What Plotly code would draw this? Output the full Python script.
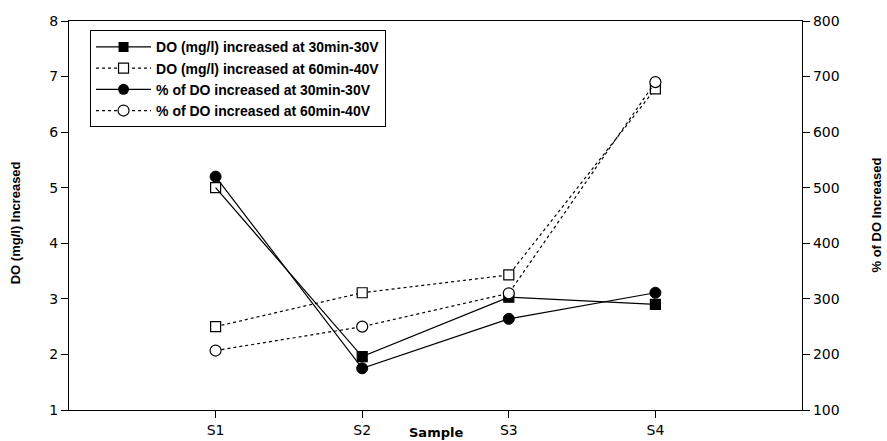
import plotly.graph_objects as go

samples = ["S1", "S2", "S3", "S4"]
do_30min_30v = [5.0, 1.96, 3.03, 2.90]
do_60min_40v = [2.50, 3.11, 3.43, 6.78]
pct_30min_30v = [520, 175, 264, 311]
pct_60min_40v = [207, 250, 310, 690]

names = [
    "DO (mg/l) increased at 30min-30V",
    "DO (mg/l) increased at 60min-40V",
    "% of DO increased at 30min-30V",
    "% of DO increased at 60min-40V",
]

BLK = "black"
fig = go.Figure()

# data traces (legend shown by separate legend-only entries)
fig.add_trace(go.Scatter(
    x=samples, y=do_30min_30v, mode="lines+markers", showlegend=False,
    line=dict(color=BLK, width=1.2),
    marker=dict(symbol=["square-open", "square", "square", "square"], size=10,
                color=BLK, line=dict(color=BLK, width=1.2)),
    yaxis="y"))
fig.add_trace(go.Scatter(
    x=samples, y=do_60min_40v, mode="lines+markers", showlegend=False,
    line=dict(color=BLK, width=1.2, dash="dot"),
    marker=dict(symbol="square", size=10, color="white", line=dict(color=BLK, width=1.2)),
    yaxis="y"))
fig.add_trace(go.Scatter(
    x=samples, y=pct_30min_30v, mode="lines+markers", showlegend=False,
    line=dict(color=BLK, width=1.2),
    marker=dict(symbol="circle", size=11, color=BLK, line=dict(color=BLK, width=1)),
    yaxis="y2"))
fig.add_trace(go.Scatter(
    x=samples, y=pct_60min_40v, mode="lines+markers", showlegend=False,
    line=dict(color=BLK, width=1.2, dash="dot"),
    marker=dict(symbol="circle", size=11, color="white", line=dict(color=BLK, width=1.2)),
    yaxis="y2"))

# legend entries
leg_styles = [
    (dict(color=BLK, width=1.2), dict(symbol="square", size=10, color=BLK)),
    (dict(color=BLK, width=1.2, dash="dot"), dict(symbol="square", size=10, color="white", line=dict(color=BLK, width=1.2))),
    (dict(color=BLK, width=1.2), dict(symbol="circle", size=11, color=BLK)),
    (dict(color=BLK, width=1.2, dash="dot"), dict(symbol="circle", size=11, color="white", line=dict(color=BLK, width=1.2))),
]
for nm, (ln, mk) in zip(names, leg_styles):
    fig.add_trace(go.Scatter(x=[None], y=[None], mode="lines+markers", name=nm,
                             line=ln, marker=mk, showlegend=True))

tickfont = dict(family="DejaVu Sans, Liberation Sans, Arial", size=14, color=BLK)

fig.update_layout(
    width=887, height=441,
    margin=dict(l=69, r=85, t=21, b=31, autoexpand=False),
    plot_bgcolor="white", paper_bgcolor="white",
    showlegend=True,
    legend=dict(x=0.0287, y=0.976, xanchor="left", yanchor="top",
                bordercolor=BLK, borderwidth=1, bgcolor="white",
                font=dict(family="Liberation Sans, Arial", size=14, color=BLK, weight="bold"),
                traceorder="normal", itemwidth=55),
    xaxis=dict(type="category", range=[-1, 4], showline=True, linecolor=BLK, linewidth=1.3,
               mirror=True, ticks="outside", ticklen=7, tickcolor=BLK, tickfont=tickfont,
               showgrid=False, zeroline=False, automargin=False),
    yaxis=dict(range=[1, 8], dtick=1, showline=True, linecolor=BLK, linewidth=1.3,
               ticks="outside", ticklen=7, tickcolor=BLK, tickfont=tickfont,
               showgrid=False, zeroline=False, automargin=False),
    yaxis2=dict(range=[100, 800], dtick=100, overlaying="y", side="right",
                showline=True, linecolor=BLK, linewidth=1.3,
                ticks="outside", ticklen=7, tickcolor=BLK, tickfont=tickfont,
                showgrid=False, zeroline=False, automargin=False),
    annotations=[
        dict(text="<b>Sample</b>", x=0.5, y=0, xref="paper", yref="paper",
             yshift=-22, xanchor="center", yanchor="middle", showarrow=False,
             font=dict(family="DejaVu Sans, Liberation Sans", size=13, color=BLK)),
        dict(text="<b>DO (mg/l) Increased</b>", x=0, y=0.48, xref="paper", yref="paper",
             xshift=15 - 69, showarrow=False, textangle=-90, xanchor="center", yanchor="middle",
             font=dict(family="Liberation Sans Narrow, Liberation Sans", size=13, color=BLK)),
        dict(text="<b>% of DO Increased</b>", x=1, y=0.5, xref="paper", yref="paper",
             xshift=876 - 802, showarrow=False, textangle=-90, xanchor="center", yanchor="middle",
             font=dict(family="Liberation Sans Narrow, Liberation Sans", size=13, color=BLK)),
    ],
)

fig.write_html("out.html", config={"displayModeBar": False},
               post_script="document.body.style.margin='0';document.body.style.overflow='hidden';")
